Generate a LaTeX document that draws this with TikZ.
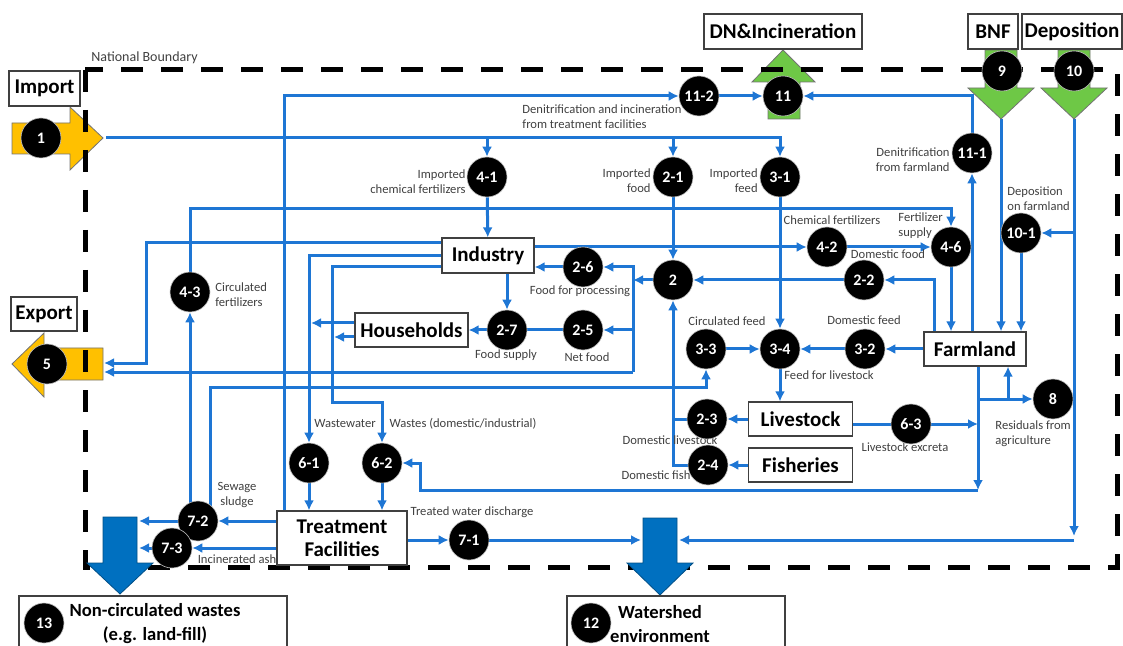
\documentclass[tikz,border=0pt]{standalone}
\usepackage{fontspec}
\setmainfont{Carlito}
\usetikzlibrary{arrows.meta}
\definecolor{flowblue}{RGB}{30,118,212}
\definecolor{sinkblue}{RGB}{0,112,192}
\definecolor{impyellow}{RGB}{255,192,0}
\definecolor{natgreen}{RGB}{110,200,70}
\pgfdeclarelayer{lines}
\pgfsetlayers{lines,main}

\begin{document}
\begin{tikzpicture}[x=0.5pt, y=-0.5pt,
  flow/.style={draw=flowblue, line width=1.5pt, -{Latex[length=5pt,width=5pt]}},
  pipe/.style={draw=flowblue, line width=1.5pt},
  numc/.style={circle, fill=black, draw=gray!50, line width=0.3pt, text=white, inner sep=0pt,
    minimum size=20pt, font=\bfseries\fontsize{8}{8}\selectfont},
  proc/.style={draw=black!75, fill=white, line width=0.6pt, inner sep=0pt, align=center,
    font=\bfseries\fontsize{10.5}{11.5}\selectfont},
  note/.style={text=black!75, inner sep=0pt, font=\fontsize{6.3}{7.5}\selectfont},
  bigarrow/.style={draw=black!55, line width=0.4pt},
  boundary/.style={draw=black, line width=2.5pt, dash pattern=on 11pt off 9pt}]

\useasboundingbox (0,0) rectangle (1123,646);
\clip (0,0) rectangle (1123,646);

% import / export and natural inputs
\filldraw[bigarrow, fill=impyellow] (12,123) -- (70,123) -- (70,107) -- (103,138) -- (70,170) -- (70,154) -- (12,154) -- cycle;
\filldraw[bigarrow, fill=impyellow] (12,364) -- (44,333) -- (44,348) -- (103,348) -- (103,380) -- (44,380) -- (44,397) -- cycle;
\filldraw[bigarrow, fill=natgreen] (768,119) -- (768,82) -- (752,82) -- (783,50) -- (815,82) -- (800,82) -- (800,119) -- cycle;
\filldraw[bigarrow, fill=natgreen] (985,50) -- (1017,50) -- (1017,88) -- (1034,88) -- (1001,119) -- (968,88) -- (985,88) -- cycle;
\filldraw[bigarrow, fill=natgreen] (1058,50) -- (1090,50) -- (1090,88) -- (1107,88) -- (1074,119) -- (1041,88) -- (1058,88) -- cycle;
\coordinate (imptip) at (106,138);
\coordinate (bnftip) at (1001,119);
\coordinate (deptip) at (1074,119);

% national boundary
\draw[boundary] (85,70) rectangle (1117,567);
\node[note, anchor=west, font=\fontsize{7}{8}\selectfont] (natlbl) at (91,58) {National Boundary};

% sinks
\filldraw[bigarrow, fill=sinkblue, draw=sinkblue!70!black] (103,517) -- (137,517) -- (137,563) -- (153,563) -- (120,594) -- (87,563) -- (103,563) -- cycle;
\filldraw[bigarrow, fill=sinkblue, draw=sinkblue!70!black] (643,518) -- (677,518) -- (677,563) -- (693,563) -- (660,595) -- (627,563) -- (643,563) -- cycle;
\draw[draw=black!75, line width=0.6pt] (19,596) rectangle (287,680);
\draw[draw=black!75, line width=0.6pt] (567,596) rectangle (785,680);
\node[font=\bfseries\fontsize{9.3}{12}\selectfont, align=center] (wastetxt) at (155,624) {Non-circulated wastes\\(e.g. land-fill)};
\node[font=\bfseries\fontsize{9.3}{12}\selectfont, align=center] (shedtxt) at (660,624) {Watershed\\environment};

% boxes
\node[proc, minimum width=35.5pt, minimum height=17.5pt] (import) at (44.5,88.5) {Import};
\node[proc, minimum width=33pt, minimum height=17pt] (export) at (44,314) {Export};
\node[proc, minimum width=79pt, minimum height=17.5pt] (dnbox) at (783,31.5) {DN\&Incineration};
\node[proc, minimum width=25pt, minimum height=17.5pt] (bnfbox) at (993,31.5) {BNF};
\node[proc, minimum width=50pt, minimum height=17.5pt] (depbox) at (1072,31.5) {Deposition};
\node[proc, minimum width=46pt, minimum height=17.5pt] (industry) at (488,255.5) {Industry};
\node[proc, minimum width=56.5pt, minimum height=17pt] (household) at (411.5,330) {Households};
\node[proc, minimum width=51pt, minimum height=17pt] (farmland) at (975,349) {Farmland};
\node[proc, minimum width=52pt, minimum height=17pt] (livestock) at (800.5,419) {Livestock};
\node[proc, minimum width=52pt, minimum height=17pt] (fisheries) at (800.5,465) {Fisheries};
\node[proc, minimum width=65pt, minimum height=27pt] (treatment) at (342,538) {Treatment\\Facilities};

% labels
\node[note, anchor=west, align=left] (lbl112) at (522,117) {Denitrification and incineration\\from treatment facilities};
\node[note, anchor=east, align=right] (lbl41) at (466,182) {Imported\\chemical fertilizers};
\node[note, anchor=east, align=right] (lbl21) at (651,181) {Imported\\food};
\node[note, anchor=east, align=right] (lbl31) at (758,181) {Imported\\feed};
\node[note, anchor=east, align=right] (lbl111) at (950,160) {Denitrification\\from farmland};
\node[note, anchor=west, align=left] (lbl101) at (1007,199) {Deposition\\on farmland};
\node[note] (lbl42) at (832,220) {Chemical fertilizers};
\node[note, anchor=west, align=left] (lbl46) at (898,226) {Fertilizer\\supply};
\node[note] (lbl22) at (888,254) {Domestic food};
\node[note] (lbl26) at (580,291) {Food for processing};
\node[note, anchor=west, align=left] (lbl43) at (215,295) {Circulated\\fertilizers};
\node[note] (lbl27) at (506,355) {Food supply};
\node[note] (lbl25) at (587,357) {Net food};
\node[note] (lbl33) at (727,321) {Circulated feed};
\node[note] (lbl32) at (864,320) {Domestic feed};
\node[note] (lbl34) at (829,375) {Feed for livestock};
\node[note] (lbl61) at (345,424) {Wastewater};
\node[note] (lbl62) at (463,424) {Wastes (domestic/industrial)};
\node[note] (lbl23) at (670,440) {Domestic livestock};
\node[note] (lbl24) at (656,475) {Domestic fish};
\node[note] (lbl63) at (905,447) {Livestock excreta};
\node[note, anchor=west, align=left] (lbl8) at (995,434) {Residuals from\\agriculture};
\node[note, align=center] (lbl72) at (237,495) {Sewage\\sludge};
\node[note] (lbl73) at (237,559) {Incinerated ash};
\node[note] (lbl71) at (472,512) {Treated water discharge};

% flow numbers
\node[numc] (n1) at (41,138) {1};
\node[numc] (n5) at (47,364) {5};
\node[numc] (n9) at (1002,71) {9};
\node[numc] (n10) at (1074,71) {10};
\node[numc] (n11) at (783,96) {11};
\node[numc] (n112) at (699,96) {11-2};
\node[numc] (n111) at (972,153) {11-1};
\node[numc] (n101) at (1021,233) {10-1};
\node[numc] (n41) at (487,177) {4-1};
\node[numc] (n21) at (673,177) {2-1};
\node[numc] (n31) at (780,177) {3-1};
\node[numc] (n42) at (827,247) {4-2};
\node[numc] (n46) at (951,247) {4-6};
\node[numc] (n22) at (864,280) {2-2};
\node[numc] (n2) at (673,280) {2};
\node[numc] (n26) at (583,267) {2-6};
\node[numc] (n25) at (583,330) {2-5};
\node[numc] (n27) at (507,330) {2-7};
\node[numc] (n43) at (190,292) {4-3};
\node[numc] (n33) at (706,349) {3-3};
\node[numc] (n34) at (780,349) {3-4};
\node[numc] (n32) at (865,349) {3-2};
\node[numc] (n8) at (1053,399) {8};
\node[numc] (n23) at (707,419) {2-3};
\node[numc] (n24) at (708,465) {2-4};
\node[numc] (n63) at (911,424) {6-3};
\node[numc] (n61) at (309,463) {6-1};
\node[numc] (n62) at (382,463) {6-2};
\node[numc] (n72) at (198,521) {7-2};
\node[numc] (n73) at (172,548) {7-3};
\node[numc] (n71) at (469,540) {7-1};
\node[numc] (n13) at (44,623) {13};
\node[numc] (n12) at (591,623) {12};

\begin{pgfonlayer}{lines}
% imports
\draw[flow] (imptip) -| (n31);
\draw[flow] (n41 |- imptip) -- (n41);
\draw[flow] (n21 |- imptip) -- (n21);
% fertilizers
\draw[flow] (n41) -- (industry);
\draw[flow] (industry.east |- n42) -- (n42);
\draw[flow] (n42) -- (n46);
\coordinate (cfert) at (951,209);
\draw[flow] (n43) |- (cfert) -- (n46);
\draw[flow] (n46) -- (farmland.north -| n46);
\draw[flow] (n72 -| n43) -- (n43);
% food
\draw[flow] (n21) -- (n2);
\coordinate (cdf) at (934,280);
\draw[flow] (farmland.north -| cdf) -- (cdf) -- (n22);
\draw[flow] (n22) -- (n2);
\coordinate (cfood) at (633,280);
\draw[flow] (n2) -- (cfood);
\coordinate (cft) at (633,267);
\coordinate (cfb) at (633,372);
\draw[flow] (cfb) -- (cft) -- (n26);
\draw[flow] (n25 -| cft) -- (n25);
\coordinate (expb) at (104,372);
\draw[flow] (cfb) -- (expb);
\draw[flow] (n26) -- (industry.east |- n26);
\draw[flow] (industry.south -| n27) -- (n27);
\draw[pipe] (n25) -- (n27);
\draw[flow] (n27) -- (household);
\coordinate (cexp) at (146,243);
\coordinate (expa) at (104,363);
\draw[flow] (industry.west |- cexp) -- (cexp) |- (expa);
% domestic products
\coordinate (cdom) at (673,465);
\draw[pipe] (n23) -- (n23 -| cdom);
\draw[flow] (n24) -- (cdom) -- (n2);
\draw[flow] (livestock) -- (n23);
\draw[flow] (fisheries) -- (n24);
% feed
\draw[flow] (n31) -- (n34);
\draw[flow] (n33) -- (n34);
\draw[flow] (n32) -- (n34);
\draw[flow] (farmland) -- (n32);
\draw[flow] (n34) -- (livestock.north -| n34);
\coordinate (cfd) at (210,387);
\draw[flow] (n72 -| cfd) -- (cfd) -| (n33);
% excreta and residuals
\draw[pipe] (livestock.east |- n63) -- (n63);
\coordinate (cex) at (978,424);
\draw[flow] (n63) -- (cex);
\coordinate (cres) at (978,490);
\draw[flow] (farmland.south -| cres) -- (cres);
\coordinate (c8) at (978,399);
\draw[flow] (c8) -- (n8);
\coordinate (c8b) at (1008,399);
\draw[flow] (c8b) -- (farmland.south -| c8b);
\coordinate (cr2) at (420,490);
\draw[flow] (cres) -- (cr2) |- (n62);
% wastes
\coordinate (cww) at (309,256);
\draw[flow] (industry.west |- cww) -- (cww) -- (n61);
\coordinate (cws) at (332,267);
\coordinate (cws2) at (332,402);
\draw[flow] (industry.west |- cws) -- (cws) -- (cws2) -| (n62);
\coordinate (hw1) at (311,323);
\coordinate (hw2) at (334,337);
\draw[flow] (household.west |- hw1) -- (hw1);
\draw[flow] (household.west |- hw2) -- (hw2);
\draw[flow] (n61) -- (treatment.north -| n61);
\draw[flow] (n62) -- (treatment.north -| n62);
% treatment outputs
\draw[flow] (treatment.east |- n71) -- (n71);
\coordinate (wsleft) at (641,540);
\draw[flow] (n71) -- (wsleft);
\draw[flow] (treatment.west |- n72) -- (n72);
\coordinate (wa1) at (139,521);
\draw[flow] (n72) -- (wa1);
\draw[flow] (treatment.west |- n73) -- (n73);
\coordinate (wa2) at (139,548);
\draw[flow] (n73) -- (wa2);
\coordinate (ctf) at (284,96);
\draw[flow] (treatment.north -| ctf) -- (ctf) -- (n112);
\draw[flow] (n112) -- (n11);
% denitrification and deposition
\draw[flow] (farmland.north -| n111) -- (n111);
\draw[flow] (n111) |- (n11);
\draw[flow] (bnftip) -- (farmland.north -| bnftip);
\coordinate (depc) at (1074,536);
\coordinate (wsright) at (679,540);
\draw[flow] (deptip) -- (depc);
\draw[flow] (deptip |- wsright) -- (wsright);
\draw[flow] (n101 -| deptip) -- (n101);
\draw[flow] (n101) -- (farmland.north -| n101);
\end{pgfonlayer}
\end{tikzpicture}
\end{document}
